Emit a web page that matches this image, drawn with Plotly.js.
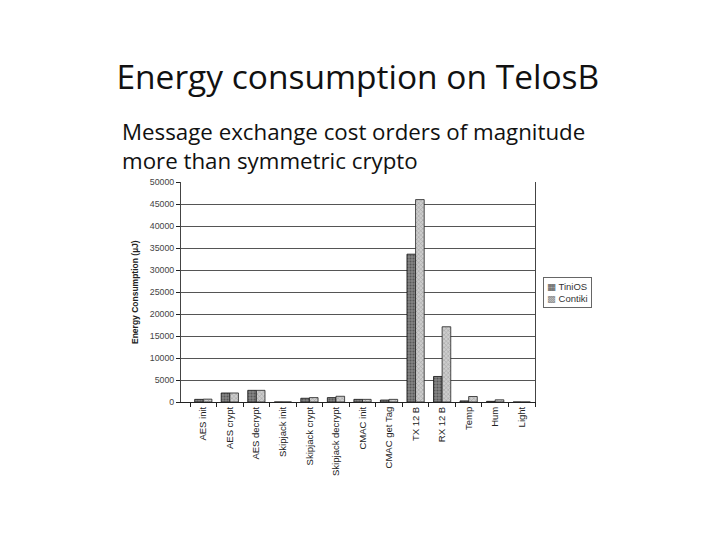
<!DOCTYPE html>
<html>
<head>
<meta charset="utf-8">
<script src="https://cdn.plot.ly/plotly-3.0.1.min.js"></script>
<style>html,body{margin:0;padding:0;background:#fff;}#chart{width:720px;height:540px;}</style>
</head>
<body>
<div id="chart"></div>
<script>
const categories = ["AES init", "AES crypt", "AES decrypt", "Skipjack init", "Skipjack crypt", "Skipjack decrypt", "CMAC init", "CMAC get Tag", "TX 12 B", "RX 12 B", "Temp", "Hum", "Light"];
const tinyosValues = [600, 2050, 2650, 0, 850, 1000, 600, 450, 33600, 5800, 250, 150, 0];
const contikiValues = [650, 2050, 2650, 0, 1000, 1300, 600, 600, 46000, 17100, 1250, 500, 0];
const seriesNames = ["TiniOS", "Contiki"];
const yTicks = [0, 5000, 10000, 15000, 20000, 25000, 30000, 35000, 40000, 45000, 50000];

const traces = [
  {
    type: "bar", name: seriesNames[0], x: categories, y: tinyosValues, showlegend: false,
    marker: {color: "#808080", line: {color: "#111", width: 0.8},
      pattern: {shape: ".", fgcolor: "#2a2a2a", bgcolor: "#858585", size: 3, solidity: 0.4, fillmode: "overlay"}}
  },
  {
    type: "bar", name: seriesNames[1], x: categories, y: contikiValues, showlegend: false,
    marker: {color: "#c8c8c8", line: {color: "#222", width: 0.8},
      pattern: {shape: "x", fgcolor: "#6a6a6a", bgcolor: "#cdcdcd", size: 3, solidity: 0.3, fillmode: "overlay"}}
  }
];

const legendText = '<span style="color:#555">▦</span> ' + seriesNames[0] + '<br><span style="color:#888">▩</span> ' + seriesNames[1];

const layout = {
  width: 720, height: 540,
  margin: {l: 0, r: 0, t: 0, b: 0},
  paper_bgcolor: "#fff", plot_bgcolor: "#fff",
  showlegend: false,
  barmode: "group", bargap: 0.35, bargroupgap: 0,
  title: {text: "Energy consumption on TelosB", x: 0.497, xanchor: "center", y: 1 - 77/540, yanchor: "middle",
    font: {family: "'Open Sans', sans-serif", size: 33.5, color: "#111"}},
  xaxis: {
    domain: [181/720, 535/720], range: [-0.84, 12.5],
    type: "category", tickangle: -90, tickson: "boundaries",
    ticks: "outside", ticklen: 4, tickcolor: "#222",
    showline: true, linecolor: "#222", linewidth: 1,
    showgrid: false,
    tickfont: {family: "Arial, 'Liberation Sans', sans-serif", size: 9.5, color: "#222"}
  },
  yaxis: {
    domain: [1 - 402/540, 1 - 182/540], range: [0, 50000],
    tickvals: yTicks, tickformat: "d",
    ticks: "outside", ticklen: 4, tickcolor: "#222",
    showline: true, linecolor: "#444", linewidth: 1, mirror: true,
    showgrid: true, gridcolor: "#555", gridwidth: 1,
    zeroline: false,
    tickfont: {family: "Arial, 'Liberation Sans', sans-serif", size: 8.8, color: "#444"}
  },
  annotations: [
    {text: "Message exchange cost orders of magnitude<br>more than symmetric crypto", xref: "paper", yref: "paper",
     x: 120/720, y: 1 - 114/540, xanchor: "left", yanchor: "top", align: "left", showarrow: false,
     font: {family: "'Open Sans', sans-serif", size: 22.3, color: "#111"}},
    {text: "<b>Energy Consumption (µJ)</b>", xref: "paper", yref: "paper",
     x: 135/720, y: 1 - 292/540, xanchor: "center", yanchor: "middle", textangle: -90, showarrow: false,
     font: {family: "Arial, 'Liberation Sans', sans-serif", size: 8.5, color: "#222"}},
    {text: legendText, xref: "paper", yref: "paper",
     x: 543/720, y: 1 - 277/540, xanchor: "left", yanchor: "top", align: "left", showarrow: false,
     bordercolor: "#666", borderwidth: 1, borderpad: 3, bgcolor: "#fff",
     font: {family: "Arial, 'DejaVu Sans', sans-serif", size: 9.5, color: "#333"}}
  ]
};

Plotly.newPlot("chart", traces, layout, {displayModeBar: false, staticPlot: true});
</script>
</body>
</html>
